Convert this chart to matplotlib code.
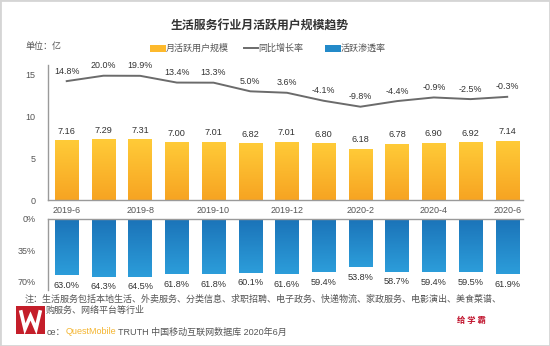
import matplotlib
matplotlib.use('Agg')
import matplotlib.pyplot as plt
import numpy as np
from matplotlib.patches import Rectangle
from matplotlib.lines import Line2D
from matplotlib.colors import LinearSegmentedColormap

plt.rcParams['font.family'] = ['Liberation Sans', 'Noto Sans CJK SC']

months = ['2019-6', '2019-7', '2019-8', '2019-9', '2019-10', '2019-11', '2019-12',
          '2020-1', '2020-2', '2020-3', '2020-4', '2020-5', '2020-6']
mau = [7.16, 7.29, 7.31, 7.00, 7.01, 6.82, 7.01, 6.80, 6.18, 6.78, 6.90, 6.92, 7.14]
yoy = [14.8, 20.0, 19.9, 13.4, 13.3, 5.0, 3.6, -4.1, -9.8, -4.4, -0.9, -2.5, -0.3]
pen = [63.0, 64.3, 64.5, 61.8, 61.8, 60.1, 61.6, 59.4, 53.8, 58.7, 59.4, 59.5, 61.9]
top_ticks = [0, 5, 10, 15]
bot_ticks = [0, 35, 70]

W, H = 550, 346
fig = plt.figure(figsize=(5.5, 3.46), dpi=100)
fig.patch.set_facecolor('white')

def fx(px):
    return px / W

def fy(py):
    return 1 - py / H

GRAY = '#555555'
SPINE = '#9a9a9a'
x = np.arange(len(months))
grad = np.linspace(0, 1, 64).reshape(-1, 1)

# ---------- top axes ----------
ax = fig.add_axes([fx(48), fy(200), fx(523) - fx(48), (200 - 65) / H])
bars = ax.bar(x, mau, width=0.635, color='#FDB92C', zorder=2)
cm_y = LinearSegmentedColormap.from_list('yy', ['#F7A422', '#FFCB38'])
for b in bars:
    x0, y0, w, h = b.get_x(), b.get_y(), b.get_width(), b.get_height()
    im = ax.imshow(grad, extent=[x0, x0 + w, y0, y0 + h], origin='lower',
                   cmap=cm_y, aspect='auto', zorder=2.1)
    im.set_clip_path(b)
for xi, v in zip(x, mau):
    ax.annotate(f'{v:.2f}', (xi, v), xytext=(0, 3), textcoords='offset points',
                ha='center', va='bottom', fontsize=6.6, color='#333333')
ax.set_xlim(-0.51, 12.43)
ax.set_ylim(0, 16.2)
ax.set_yticks(top_ticks)
ax.set_yticklabels([str(t) for t in top_ticks])
ax.set_xticks(x[::2])
ax.set_xticklabels(months[::2])
ax.tick_params(axis='both', length=0, labelsize=6.5, colors=GRAY)
ax.tick_params(axis='y', pad=9)
ax.tick_params(axis='x', pad=4)
for s in ['top', 'right']:
    ax.spines[s].set_visible(False)
for s in ['left', 'bottom']:
    ax.spines[s].set_color(SPINE)
    ax.spines[s].set_linewidth(1.0)
ax.set_facecolor('none')

ax2 = ax.twinx()
ax2.plot(x, yoy, color='#6b6b6b', lw=1.4, zorder=3, solid_joinstyle='round')
for xi, v in zip(x, yoy):
    ax2.annotate(f'{v:.1f}%', (xi, v), xytext=(0, 4), textcoords='offset points',
                 ha='center', va='bottom', fontsize=6.4, color='#333333')
ax2.set_ylim(-99.5, 30.3)
ax2.set_xlim(-0.51, 12.43)
ax2.axis('off')

# ---------- bottom axes ----------
bx = fig.add_axes([fx(48), fy(290), fx(523) - fx(48), (290 - 219) / H])
bbars = bx.bar(x, pen, width=0.635, color='#238AC9', zorder=2)
cm_b = LinearSegmentedColormap.from_list('bb', ['#1B73B8', '#2C9DDA'])
for b in bbars:
    x0, y0, w, h = b.get_x(), b.get_y(), b.get_width(), b.get_height()
    im = bx.imshow(grad, extent=[x0, x0 + w, y0, y0 + h], origin='lower',
                   cmap=cm_b, aspect='auto', zorder=2.1)
    im.set_clip_path(b)
for xi, v in zip(x, pen):
    bx.annotate(f'{v:.1f}%', (xi, v), xytext=(0, -4), textcoords='offset points',
                ha='center', va='top', fontsize=6.6, color='#333333')
bx.set_xlim(-0.51, 12.43)
bx.set_ylim(79.3, 0)
bx.set_yticks(bot_ticks)
bx.set_yticklabels([f'{t}%' for t in bot_ticks])
bx.set_xticks([])
bx.tick_params(axis='both', length=0, labelsize=6.5, colors=GRAY)
bx.tick_params(axis='y', pad=9)
for s in ['bottom', 'right']:
    bx.spines[s].set_visible(False)
for s in ['left', 'top']:
    bx.spines[s].set_color(SPINE)
    bx.spines[s].set_linewidth(1.0)
bx.set_facecolor('none')

# ---------- texts ----------
fig.text(fx(260), fy(26), '生活服务行业月活跃用户规模趋势', ha='center', va='center',
         fontsize=8.6, fontweight='bold', color='#333333', family=['Noto Sans CJK SC'])
fig.text(fx(25), fy(46), '单位：亿', ha='left', va='center', fontsize=6.5, color=GRAY)

# legend
fig.add_artist(Rectangle((fx(150), fy(51.5)), fx(16), 7 / H, transform=fig.transFigure,
                         facecolor='#FDB92C', edgecolor='none'))
fig.text(fx(166), fy(48), '月活跃用户规模', ha='left', va='center', fontsize=6.5, color=GRAY)
fig.add_artist(Line2D([fx(244), fx(258)], [fy(48), fy(48)], transform=fig.transFigure,
                      color='#6b6b6b', lw=1.4))
fig.text(fx(258), fy(48), '同比增长率', ha='left', va='center', fontsize=6.5, color=GRAY)
fig.add_artist(Rectangle((fx(325), fy(51.5)), fx(16), 7 / H, transform=fig.transFigure,
                         facecolor='#238AC9', edgecolor='none'))
fig.text(fx(341), fy(48), '活跃渗透率', ha='left', va='center', fontsize=6.5, color=GRAY)

# notes
fig.text(fx(25), fy(299), '注：生活服务包括本地生活、外卖服务、分类信息、求职招聘、电子政务、快递物流、家政服务、电影演出、美食菜谱、',
         ha='left', va='center', fontsize=6.5, color=GRAY)
fig.text(fx(46), fy(310), '购服务、网络平台等行业', ha='left', va='center', fontsize=6.5, color=GRAY)

fig.canvas.draw()
r = fig.canvas.get_renderer()
t1 = fig.text(fx(47), fy(332), 'ce：', ha='left', va='center', fontsize=6.5, color=GRAY)
e = t1.get_window_extent(r)
t2 = fig.text(e.x1 / W, fy(332), 'QuestMobile', ha='left', va='center', fontsize=6.5, color='#F4B530')
e = t2.get_window_extent(r)
fig.text(e.x1 / W + 2 / W, fy(332), 'TRUTH 中国移动互联网数据库 2020年6月', ha='left', va='center',
         fontsize=6.5, color=GRAY)

# logo (drawn shape) and watermark
fig.add_artist(Rectangle((fx(16), fy(334)), fx(29), 28 / H, transform=fig.transFigure,
                         facecolor='#C41E2A', edgecolor='none', zorder=10))
wx = [21, 25, 30.5, 36, 40]
wy = [312, 329, 316, 329, 312]
fig.add_artist(Line2D([fx(v) for v in wx], [fy(v) for v in wy], transform=fig.transFigure,
                      color='white', lw=2.6, solid_joinstyle='miter', zorder=11))
fig.text(fx(471), fy(320), '给 学 霸', ha='center', va='center', fontsize=6, fontweight='bold',
         color='#C0102A', family=['Noto Sans CJK SC'])

# frame
fig.add_artist(Rectangle((0, 0), 1, 1, transform=fig.transFigure, fill=False,
                         edgecolor='#d5d5d5', lw=2))

fig.savefig('out.png', dpi=100)
